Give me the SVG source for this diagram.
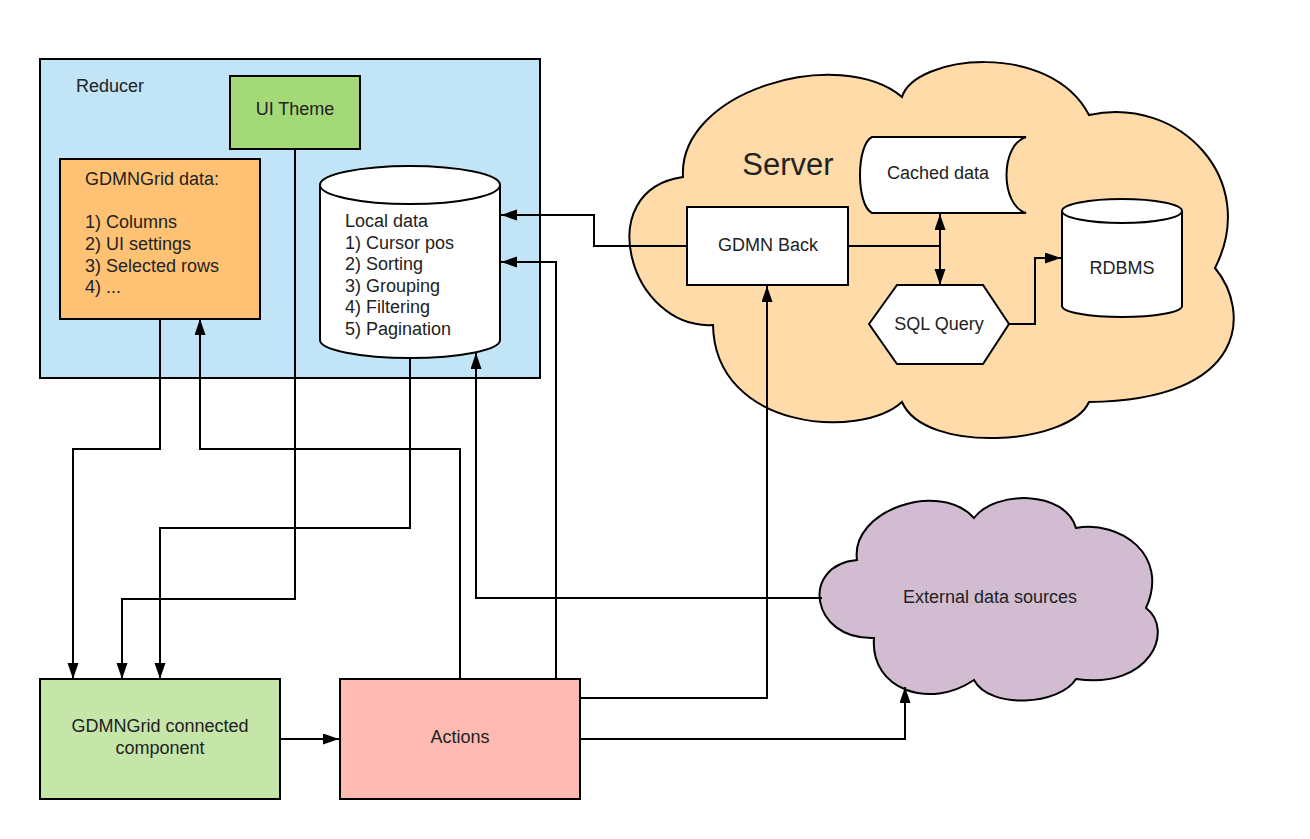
<svg xmlns="http://www.w3.org/2000/svg" width="1310" height="839" viewBox="0 0 1310 839">
<style>
  .n { stroke: #000; stroke-width: 2; }
  .t { font-family: "Liberation Sans", Arial, sans-serif; font-size: 18px; fill: #222; }
  .c { text-anchor: middle; }
  .e { fill: none; stroke: #000; stroke-width: 2; }
</style>
<defs>
  <marker id="ah" markerUnits="userSpaceOnUse" markerWidth="18" markerHeight="12" refX="16" refY="5.5" orient="auto-start-reverse">
    <path d="M0,0 L16,5.5 L0,11 Z" fill="#000"/>
  </marker>
</defs>
<rect width="1310" height="839" fill="#fff"/>

<g id="reducer">
  <rect class="n" x="40" y="59" width="500" height="319" fill="#c1e4f7"/>
  <text class="t" x="76" y="92">Reducer</text>
</g>

<g id="server">
  <path class="n" fill="#ffdba9" d="M 683 177 C 678 90, 840 45, 902 97 C 915 55, 1050 40, 1089 115 C 1180 95, 1260 180, 1215 268 C 1250 310, 1250 400, 1089 402 C 1070 445, 925 455, 902 402 C 860 440, 715 430, 713 325 C 630 330, 590 190, 683 177 Z"/>
  <text x="788" y="175" style="font-family:'Liberation Sans',Arial,sans-serif;font-size:31px;fill:#222" text-anchor="middle">Server</text>
</g>

<g id="external">
  <path class="n" fill="#d1bcd2" d="M 857 560 C 850 510, 940 480, 974 518 C 995 490, 1065 490, 1076 528 C 1120 520, 1170 555, 1146 608 C 1175 630, 1150 690, 1076 679 C 1060 705, 990 710, 974 680 C 930 710, 870 690, 874 638 C 810 640, 800 565, 857 560 Z"/>
  <text class="t c" x="990" y="603">External data sources</text>
</g>

<g id="connectors">
  <polyline class="e" points="160,319 160,449 73,449 73,679" marker-end="url(#ah)"/>
  <polyline class="e" points="460,679 460,449 200,449 200,319" marker-end="url(#ah)"/>
  <polyline class="e" points="295,149 295,599 122,599 122,679" marker-end="url(#ah)"/>
  <polyline class="e" points="410,358 410,528 160,528 160,679" marker-end="url(#ah)"/>
  <polyline class="e" points="822,598 476,598 476,353" marker-end="url(#ah)"/>
  <polyline class="e" points="556,679 556,262 501,262" marker-end="url(#ah)"/>
  <polyline class="e" points="687,246 594,246 594,215 501,215" marker-end="url(#ah)"/>
  <polyline class="e" points="580,698 767,698 767,286" marker-end="url(#ah)"/>
  <polyline class="e" points="580,739 905,739 905,687" marker-end="url(#ah)"/>
  <polyline class="e" points="280,739 339,739" marker-end="url(#ah)"/>
  <polyline class="e" points="848,246 940,246"/>
  <line class="e" x1="940" y1="214" x2="940" y2="285" marker-start="url(#ah)" marker-end="url(#ah)"/>
  <polyline class="e" points="1009,324 1035,324 1035,258 1061,258" marker-end="url(#ah)"/>
</g>

<g id="ui-theme">
  <rect class="n" x="230" y="76" width="130" height="73" fill="#a3d977"/>
  <text class="t c" x="295" y="115">UI Theme</text>
</g>

<g id="gdmngrid-data">
  <rect class="n" x="60" y="159" width="200" height="160" fill="#ffc274"/>
  <text class="t" x="85" y="185">GDMNGrid data:</text>
  <text class="t" x="85" y="228">1) Columns</text>
  <text class="t" x="85" y="250">2) UI settings</text>
  <text class="t" x="85" y="272">3) Selected rows</text>
  <text class="t" x="85" y="293">4) ...</text>
</g>

<g id="local-data">
  <path class="n" fill="#fff" d="M 320 185 A 90 19 0 0 1 500 185 L 500 340 A 90 18 0 0 1 320 340 Z"/>
  <path class="e" d="M 320 185 A 90 19 0 0 0 500 185"/>
  <text class="t" x="345" y="227">Local data</text>
  <text class="t" x="345" y="249">1) Cursor pos</text>
  <text class="t" x="345" y="270">2) Sorting</text>
  <text class="t" x="345" y="292">3) Grouping</text>
  <text class="t" x="345" y="313">4) Filtering</text>
  <text class="t" x="345" y="335">5) Pagination</text>
</g>

<g id="cached-data">
  <path class="n" fill="#fff" d="M 872 137 L 1026 137 C 1000 145, 1000 205, 1026 213 L 872 213 C 856 205, 856 145, 872 137 Z"/>
  <text class="t c" x="938" y="179">Cached data</text>
</g>

<g id="gdmn-back">
  <rect class="n" x="687" y="207" width="161" height="78" fill="#fff"/>
  <text class="t c" x="768" y="251">GDMN Back</text>
</g>

<g id="sql-query">
  <polygon class="n" fill="#fff" points="869,324 897,285 983,285 1009,324 983,364 897,364"/>
  <text class="t c" x="939" y="330">SQL Query</text>
</g>

<g id="rdbms">
  <path class="n" fill="#fff" d="M 1062 211 A 60 12 0 0 1 1182 211 L 1182 306 A 60 11 0 0 1 1062 306 Z"/>
  <path class="e" d="M 1062 211 A 60 12 0 0 0 1182 211"/>
  <text class="t c" x="1122" y="274">RDBMS</text>
</g>

<g id="connected-component">
  <rect class="n" x="40" y="679" width="240" height="120" fill="#c5e5a9"/>
  <text class="t c" x="160" y="732">GDMNGrid connected</text>
  <text class="t c" x="160" y="754">component</text>
</g>

<g id="actions">
  <rect class="n" x="340" y="679" width="240" height="120" fill="#ffbbb1"/>
  <text class="t c" x="460" y="743">Actions</text>
</g>
</svg>
